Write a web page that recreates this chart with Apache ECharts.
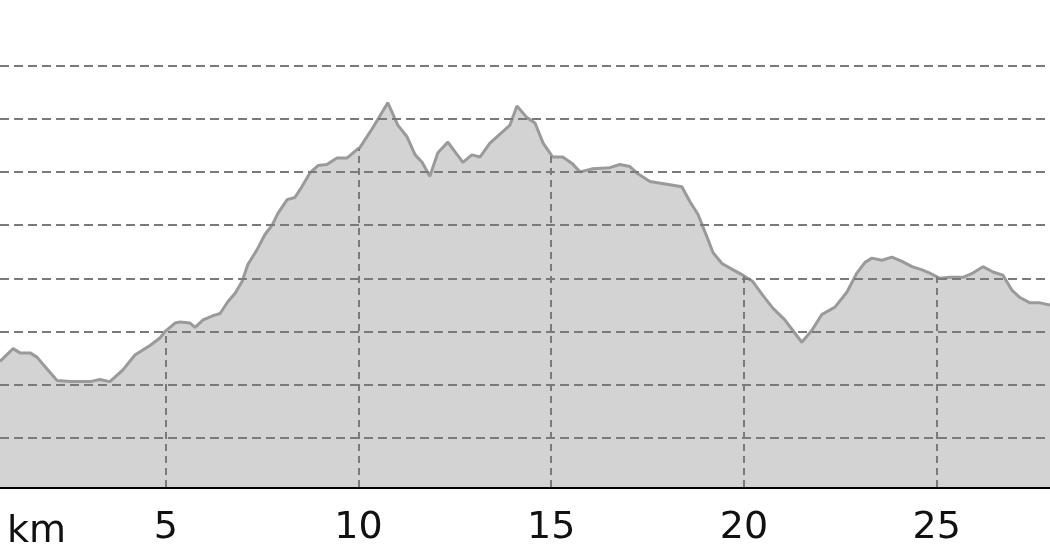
<!DOCTYPE html>
<html><head><meta charset="utf-8">
<script src="https://cdn.jsdelivr.net/npm/echarts@6/dist/echarts.min.js"></script>
<style>html,body{margin:0;padding:0;background:#fff}#c{width:1050px;height:560px}</style>
</head><body><div id="c"></div>
<script>
const distanceKm = [0.70,1.04,1.22,1.48,1.66,1.87,2.18,2.52,3.04,3.29,3.55,3.89,4.20,4.59,4.85,4.98,5.24,5.37,5.63,5.76,5.97,6.23,6.41,6.61,6.80,6.98,7.13,7.37,7.57,7.76,7.91,8.15,8.35,8.53,8.74,8.95,9.18,9.44,9.70,9.96,10.04,10.38,10.76,11.02,11.26,11.47,11.65,11.85,12.06,12.32,12.50,12.71,12.94,13.15,13.41,13.75,13.93,14.11,14.37,14.58,14.79,15.04,15.30,15.54,15.75,16.08,16.52,16.78,17.04,17.22,17.56,18.08,18.39,18.60,18.81,19.04,19.20,19.43,19.72,19.97,20.23,20.49,20.75,21.06,21.27,21.50,21.76,22.02,22.36,22.67,22.93,23.14,23.32,23.58,23.84,24.10,24.36,24.62,24.82,25.08,25.34,25.68,25.94,26.20,26.46,26.72,26.95,27.16,27.42,27.68,27.94];
const elevation = [172,184,180,180,176,167,154,153,153,155,153,164,178,187,194,200,208,209,208,204,211,215,217,228,236,247,263,277,291,300,311,324,326,336,349,356,357,363,363,371,373,392,415,394,383,366,359,346,368,378,369,359,366,364,377,388,394,412,401,396,377,364,364,358,350,353,354,357,355,349,341,338,336,322,310,289,274,264,258,253,247,234,222,211,201,190,201,216,223,237,255,265,269,267,270,266,261,258,255,250,251,251,255,261,256,253,239,232,227,227,225];
const kmTicks = [5,10,15,20,25];
const elevGrid = [100,150,200,250,300,350,400,450];
const unitLabel = 'km';
const xRange = [0.70, 27.94];
const yRange = [54, 511.5];

function elevAt(km){
  for (let i=1;i<distanceKm.length;i++){
    if (km <= distanceKm[i]){
      const t=(km-distanceKm[i-1])/(distanceKm[i]-distanceKm[i-1]);
      return elevation[i-1]+t*(elevation[i]-elevation[i-1]);
    }
  }
  return elevation[elevation.length-1];
}

const chart = echarts.init(document.getElementById('c'), null, {renderer:'canvas'});
chart.setOption({
  animation:false,
  grid:{left:0,right:0,top:0,bottom:73,containLabel:false},
  xAxis:{type:'value',min:xRange[0],max:xRange[1],splitLine:{show:false},axisTick:{show:false},
    axisLine:{onZero:false,lineStyle:{color:'#000',width:3}},
    axisLabel:{customValues:kmTicks,fontSize:38,fontFamily:'DejaVu Sans',color:'#111',margin:22}},
  yAxis:{type:'value',min:yRange[0],max:yRange[1],show:false,splitLine:{show:false}},
  graphic:[{type:'text',left:7,top:513,style:{text:unitLabel,fontSize:38,fontFamily:'DejaVu Sans',fill:'#111'}}],
  series:[{type:'line',data:distanceKm.map((k,i)=>[k,elevation[i]]),symbol:'none',
    lineStyle:{color:'#9a9a9a',width:3},areaStyle:{color:'#d3d3d3',opacity:1,origin:'start'},
    markLine:{silent:true,symbol:'none',label:{show:false},animation:false,
      data:[
        ...elevGrid.map(v=>({yAxis:v,lineStyle:{type:[9,5],color:'#7a7a7a',width:2}})),
        ...kmTicks.map(k=>[{coord:[k,yRange[0]],lineStyle:{type:[7,5],color:'#7a7a7a',width:2}},{coord:[k,elevAt(k)]}])
      ]}}]
});
</script></body></html>
